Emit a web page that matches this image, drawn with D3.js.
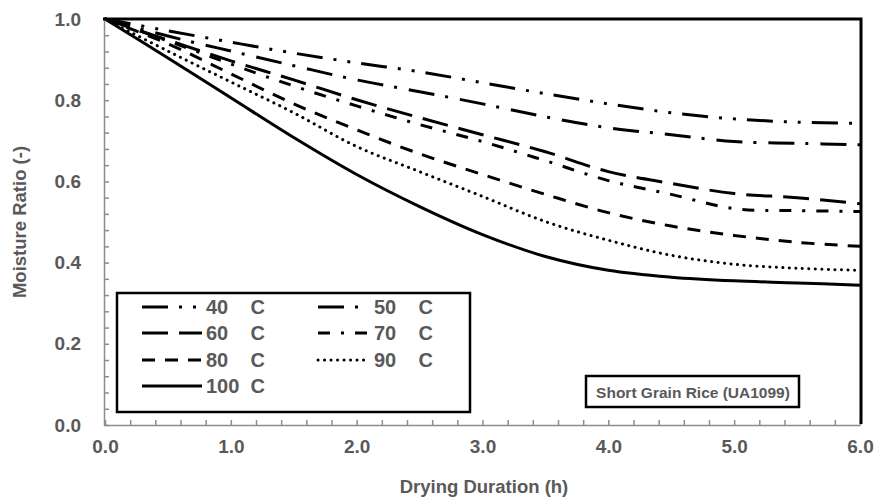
<!DOCTYPE html>
<html lang="en">
<head>
  <meta charset="UTF-8">
  <title>Moisture Ratio vs Drying Duration</title>
  <script src="https://d3js.org/d3.v7.min.js"></script>
  <style>
    body { margin: 0; background: #fff; }
    text { font-family: "Liberation Sans", Arial, sans-serif; font-weight: bold; fill: #595959; }
    .axis path, .axis line { stroke: #8c8c8c; stroke-width: 1.5; }
  </style>
</head>
<body>
<div id="chartContainer"></div>

<script>
  // Data
  const hours = [0, 0.5, 1, 1.5, 2, 2.5, 3, 3.5, 4, 4.5, 5, 5.5, 6];
  const mr40  = [1, 0.971, 0.943, 0.916, 0.892, 0.870, 0.843, 0.816, 0.791, 0.769, 0.754, 0.746, 0.743];
  const mr50  = [1, 0.958, 0.921, 0.885, 0.850, 0.821, 0.791, 0.759, 0.732, 0.715, 0.698, 0.694, 0.690];
  const mr60  = [1, 0.948, 0.897, 0.850, 0.801, 0.757, 0.715, 0.673, 0.624, 0.595, 0.570, 0.560, 0.545];
  const mr70  = [1, 0.946, 0.889, 0.835, 0.786, 0.740, 0.698, 0.651, 0.602, 0.568, 0.533, 0.528, 0.526];
  const mr80  = [1, 0.939, 0.865, 0.791, 0.727, 0.668, 0.617, 0.568, 0.523, 0.490, 0.467, 0.450, 0.440];
  const mr90  = [1, 0.921, 0.845, 0.769, 0.686, 0.624, 0.563, 0.501, 0.455, 0.418, 0.396, 0.386, 0.381];
  const mr100 = [1, 0.904, 0.806, 0.708, 0.617, 0.538, 0.469, 0.415, 0.381, 0.364, 0.355, 0.350, 0.344];

  const seriesNames = ["40    C", "50    C", "60    C", "70    C", "80    C", "90    C", "100  C"];
  const xTicks = [0, 1, 2, 3, 4, 5, 6];
  const yTicks = [0, 0.2, 0.4, 0.6, 0.8, 1.0];
  const annotation = "Short Grain Rice (UA1099)";

  // line styles (Excel-like dash types)
  const dashes = [
    "26,11,3,11,3,11",  // long dash dot dot
    "26,11,3,12",       // long dash dot
    "26,11",            // long dash
    "12,11,3,11",       // dash dot
    "13,10",            // dash
    "0.1,6.4",          // round dot
    null                // solid
  ];

  const series = [mr40, mr50, mr60, mr70, mr80, mr90, mr100].map((vals, i) => ({
    name: seriesNames[i],
    dash: dashes[i],
    values: hours.map((h, j) => ({ h: h, v: vals[j] }))
  }));

  const width = 879;
  const height = 501;
  const plot = { left: 104, right: 861, top: 19, bottom: 425 };

  const svg = d3.select("#chartContainer")
    .append("svg")
    .attr("width", width)
    .attr("height", height);

  const xScale = d3.scaleLinear().domain([0, 6]).range([plot.left + 1, plot.right - 1]);
  const yScale = d3.scaleLinear().domain([0, 1]).range([plot.bottom, plot.top]);

  // curves
  const line = d3.line()
    .x(d => xScale(d.h))
    .y(d => yScale(d.v))
    .curve(d3.curveCatmullRom.alpha(0.5));

  svg.selectAll(".curve")
    .data(series)
    .enter().append("path")
    .attr("class", "curve")
    .attr("d", d => line(d.values))
    .attr("fill", "none")
    .attr("stroke", "#000")
    .attr("stroke-width", 3)
    .attr("stroke-linecap", d => d.dash === "0.1,6.4" ? "round" : "butt")
    .attr("stroke-dasharray", d => d.dash);

  // axes with minor ticks inside
  const xAxis = d3.axisBottom(xScale)
    .tickValues(d3.range(0, 31).map(i => i * 0.2))
    .tickSizeInner(-5)
    .tickSizeOuter(0)
    .tickPadding(15)
    .tickFormat(d => xTicks.some(t => Math.abs(t - d) < 1e-6) ? d.toFixed(1) : "");

  const yAxis = d3.axisLeft(yScale)
    .tickValues(d3.range(0, 26).map(i => i * 0.04))
    .tickSizeInner(-5)
    .tickSizeOuter(0)
    .tickPadding(23)
    .tickFormat(d => yTicks.some(t => Math.abs(t - d) < 1e-6) ? d.toFixed(1) : "");

  svg.append("g")
    .attr("class", "axis")
    .attr("transform", `translate(0, ${plot.bottom})`)
    .call(xAxis)
    .selectAll("text").style("font-size", "19px");

  svg.append("g")
    .attr("class", "axis")
    .attr("transform", `translate(${plot.left}, 0)`)
    .call(yAxis)
    .selectAll("text").style("font-size", "19px");

  // thick plot border (top and right)
  svg.append("path")
    .attr("d", `M${plot.left - 1},${plot.top} H${plot.right} V${plot.bottom - 1}`)
    .attr("fill", "none")
    .attr("stroke", "#000")
    .attr("stroke-width", 3);

  // axis titles
  svg.append("text")
    .attr("x", 484).attr("y", 493)
    .attr("text-anchor", "middle")
    .style("font-size", "18.5px")
    .text("Drying Duration (h)");

  svg.append("text")
    .attr("transform", "translate(26, 222) rotate(-90)")
    .attr("text-anchor", "middle")
    .style("font-size", "18.5px")
    .text("Moisture Ratio (-)");

  // legend
  const legend = svg.append("g");
  legend.append("rect")
    .attr("x", 117).attr("y", 293)
    .attr("width", 353).attr("height", 119)
    .attr("fill", "#fff")
    .attr("stroke", "#000")
    .attr("stroke-width", 2.5);

  const cols = [{ x0: 142, x1: 202, tx: 206 }, { x0: 318, x1: 370, tx: 374 }];
  const rows = [307, 333, 360, 386];

  series.forEach((s, i) => {
    const c = cols[i % 2];
    const r = rows[Math.floor(i / 2)];
    legend.append("line")
      .attr("x1", c.x0).attr("x2", c.x1)
      .attr("y1", r).attr("y2", r)
      .attr("stroke", "#000")
      .attr("stroke-width", 3)
      .attr("stroke-linecap", s.dash === "0.1,6.4" ? "round" : "butt")
      .attr("stroke-dasharray", s.dash);
    legend.append("text")
      .attr("x", c.tx).attr("y", r + 7)
      .style("font-size", "20px")
      .style("white-space", "pre")
      .text(s.name);
  });

  // annotation box
  svg.append("rect")
    .attr("x", 586).attr("y", 376)
    .attr("width", 213).attr("height", 31)
    .attr("fill", "#fff")
    .attr("stroke", "#000")
    .attr("stroke-width", 2.5);

  svg.append("text")
    .attr("x", 693).attr("y", 398)
    .attr("text-anchor", "middle")
    .style("font-size", "15.5px")
    .text(annotation);
</script>

</body>
</html>
